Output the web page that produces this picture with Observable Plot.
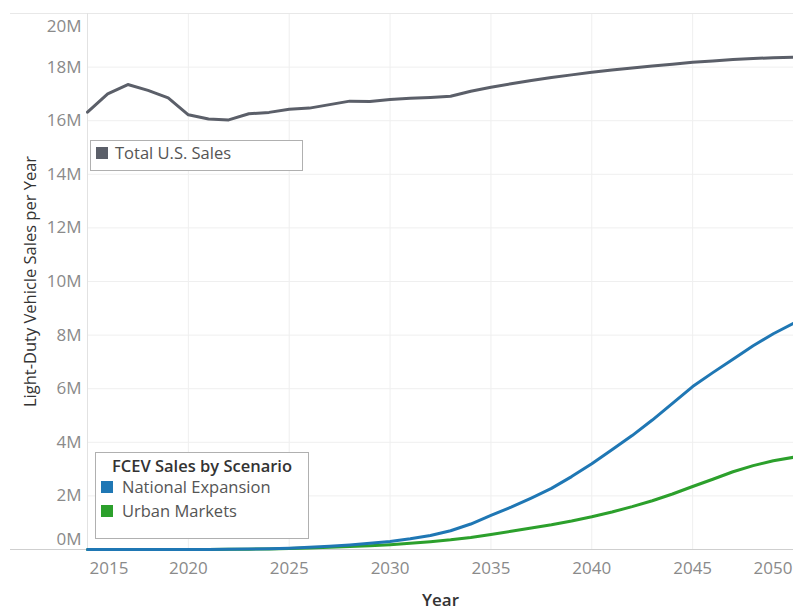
<!DOCTYPE html>
<html><head><meta charset="utf-8">
<script src="https://cdn.jsdelivr.net/npm/d3@7"></script>
<script src="https://cdn.jsdelivr.net/npm/@observablehq/plot@0.6"></script>
<style>
body{margin:0;background:#fff;font-family:"Open Sans",Lato,sans-serif;}
#wrap{position:relative;width:793px;height:609px;overflow:hidden;}
.legend{position:absolute;background:#fff;border:1px solid #b0b0b0;box-sizing:border-box;font-size:16.5px;color:#555;}
.item{position:absolute;white-space:nowrap;line-height:20px;}
.sw{position:absolute;width:12px;height:12px;}
</style></head><body><div id="wrap"></div>
<script>
const years = [2015,2016,2017,2018,2019,2020,2021,2022,2023,2024,2025,2026,2027,2028,2029,2030,2031,2032,2033,2034,2035,2036,2037,2038,2039,2040,2041,2042,2043,2044,2045,2046,2047,2048,2049,2050];
const totalSales = [16.32,17.0,17.35,17.13,16.85,16.22,16.06,16.03,16.26,16.31,16.43,16.47,16.6,16.73,16.72,16.79,16.84,16.87,16.91,17.1,17.25,17.38,17.5,17.61,17.71,17.81,17.89,17.97,18.04,18.11,18.18,18.23,18.28,18.32,18.35,18.37];
const nationalExpansion = [0,0,0,0,0.001,0.002,0.004,0.008,0.015,0.03,0.05,0.08,0.12,0.17,0.23,0.30,0.40,0.52,0.70,0.95,1.27,1.58,1.92,2.28,2.72,3.2,3.72,4.25,4.83,5.45,6.08,6.6,7.1,7.6,8.05,8.44];
const urbanMarkets = [0,0,0,0,0,0.001,0.003,0.006,0.012,0.02,0.035,0.055,0.08,0.11,0.14,0.18,0.23,0.29,0.36,0.45,0.56,0.68,0.80,0.92,1.06,1.22,1.40,1.60,1.82,2.07,2.35,2.62,2.9,3.13,3.31,3.44];
const seriesNames = ["Total U.S. Sales","Urban Markets","National Expansion"];
const seriesColors = ["#5b5f69","#2ca02c","#1f77b4"];
const yTicks = [2,4,6,8,10,12,14,16,18];
const xTicks = [2020,2025,2030,2035,2040,2045];

const rows = [];
[totalSales, urbanMarkets, nationalExpansion].forEach((arr, i) => {
  years.forEach((yr, j) => rows.push({series: seriesNames[i], year: yr, value: arr[j]}));
});

const font = "'Open Sans', Lato, sans-serif";
const chart = Plot.plot({
  width: 793, height: 609,
  marginLeft: 87, marginRight: 0, marginTop: 13, marginBottom: 60,
  style: {fontFamily: font, fontSize: "17px", color: "#888", background: "#fff"},
  x: {domain: [2015, 2050]},
  y: {domain: [0, 20]},
  color: {domain: seriesNames, range: seriesColors},
  marks: [
    Plot.gridX(xTicks, {stroke: "#efefef", strokeOpacity: 1, strokeWidth: 1}),
    Plot.gridY(yTicks, {stroke: "#efefef", strokeOpacity: 1, strokeWidth: 1}),
    Plot.ruleY([20], {stroke: "#e8e8e8", insetLeft: -77}),
    Plot.ruleX([2015], {stroke: "#e2e2e2"}),
    Plot.axisY(yTicks, {tickSize: 0, tickPadding: 6, tickFormat: d => d + "M", label: null, fill: "#8a8a8a"}),
    Plot.axisY([20], {tickSize: 0, tickPadding: 6, tickFormat: d => d + "M", label: null, lineAnchor: "top", dy: 6, fill: "#8a8a8a"}),
    Plot.axisY([0], {tickSize: 0, tickPadding: 6, tickFormat: d => d + "M", label: null, lineAnchor: "bottom", dy: -5, fill: "#8a8a8a"}),
    Plot.axisX(xTicks, {tickSize: 0, tickPadding: 12, tickFormat: d => String(d), label: null, fill: "#8a8a8a"}),
    Plot.axisX([2015], {tickSize: 0, tickPadding: 12, tickFormat: d => String(d), label: null, textAnchor: "start", dx: 2, fill: "#8a8a8a"}),
    Plot.axisX([2050], {tickSize: 0, tickPadding: 12, tickFormat: d => String(d), label: null, textAnchor: "end", dx: -1, fill: "#8a8a8a"}),
    Plot.ruleY([0], {stroke: "#cfcfcf", insetLeft: -77}),
    Plot.text(["Light-Duty Vehicle Sales per Year"], {frameAnchor: "left", textAnchor: "middle", rotate: -90, dx: -57, fill: "#333", fontSize: 16.5, fontWeight: 500}),
    Plot.text(["Year"], {frameAnchor: "bottom", dy: 56, fill: "#333", fontSize: 17, fontWeight: 600}),
    Plot.line(rows, {x: "year", y: "value", z: "series", stroke: "series", strokeWidth: 3})
  ]
});

const wrap = document.getElementById("wrap");
wrap.appendChild(chart);

function addLegend(box, title, items) {
  const d = document.createElement("div");
  d.className = "legend";
  Object.assign(d.style, {left: box[0] + "px", top: box[1] + "px", width: box[2] + "px", height: box[3] + "px"});
  if (title) {
    const t = document.createElement("div");
    t.className = "item";
    Object.assign(t.style, {left: "0", width: "100%", textAlign: "center", top: title.top + "px", color: "#333", fontWeight: "600"});
    t.textContent = title.text;
    d.appendChild(t);
  }
  items.forEach(it => {
    const s = document.createElement("div");
    s.className = "sw";
    Object.assign(s.style, {left: it.sx + "px", top: it.sy + "px", background: it.color});
    d.appendChild(s);
    const t = document.createElement("div");
    t.className = "item";
    t.textContent = it.label;
    Object.assign(t.style, {left: it.tx + "px", top: (it.sy - 4) + "px"});
    d.appendChild(t);
  });
  wrap.appendChild(d);
}
addLegend([90, 140, 213, 31], null, [
  {label: seriesNames[0], color: seriesColors[0], sx: 5, sy: 6, tx: 24}
]);
addLegend([95, 452, 214, 87], {text: "FCEV Sales by Scenario", top: 3}, [
  {label: seriesNames[2], color: seriesColors[2], sx: 5, sy: 28, tx: 26},
  {label: seriesNames[1], color: seriesColors[1], sx: 5, sy: 52, tx: 26}
]);
</script></body></html>
